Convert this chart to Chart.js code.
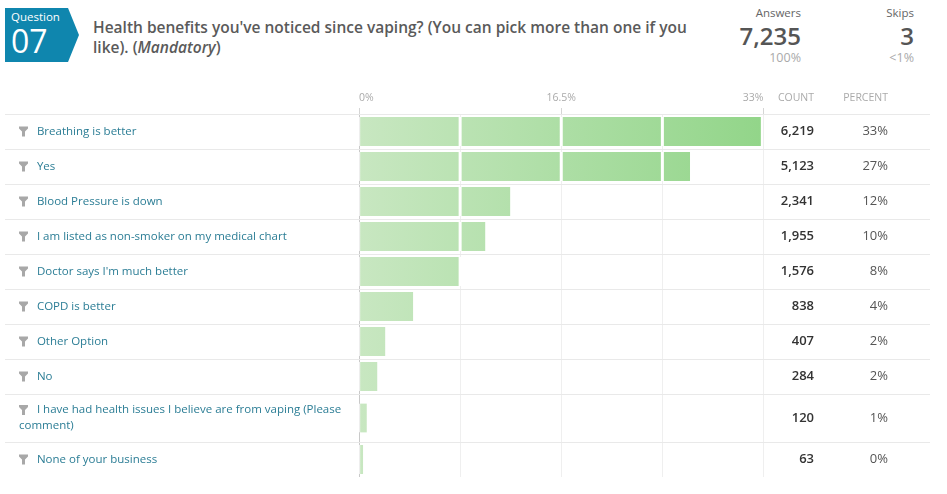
<!DOCTYPE html>
<html>
<head>
<meta charset="utf-8">
<title>Question 07</title>
<script src="https://cdn.jsdelivr.net/npm/chart.js@4/dist/chart.umd.min.js"></script>
<style>
    html, body { margin: 0; padding: 0; background: #fff; }
    body { width: 947px; height: 494px; position: relative; overflow: hidden; font-family: "Open Sans", sans-serif; }
    #myChart { position: absolute; left: 0; top: 0; }
    .badge {
        position: absolute; left: 5px; top: 8px; width: 74px; height: 54px; background: #0f86ae; color: #fff;
        clip-path: polygon(0 0, 63px 0, 74px 27px, 63px 54px, 0 54px);
    }
    .badge .q { position: absolute; left: 6px; top: 2px; font-size: 11.5px; line-height: 14px; }
    .badge .n { position: absolute; left: 6px; top: 14px; font-size: 32px; line-height: 38px; }
    .titulo { position: absolute; left: 93px; top: 17px; font-size: 15.5px; line-height: 20px; font-weight: 600; color: #5a5a5a; white-space: nowrap; }
    .titulo i { font-weight: 600; }
    .stat { position: absolute; top: 5px; text-align: right; white-space: nowrap; }
    .stat .lbl { font-size: 11.5px; line-height: 16px; color: #666; }
    .stat .num { font-size: 24px; line-height: 29px; color: #555; font-weight: 600; }
    .stat .pct { font-size: 12.5px; line-height: 16px; color: #aaa; }
</style>
</head>
<body>
<div class="badge"><div class="q">Question</div><div class="n">07</div></div>
<div class="titulo">Health benefits you've noticed since vaping? (You can pick more than one if you<br>like). (<i>Mandatory</i>)</div>
<div class="stat" style="right:146px"><div class="lbl">Answers</div><div class="num">7,235</div><div class="pct">100%</div></div>
<div class="stat" style="right:33px"><div class="lbl">Skips</div><div class="num">3</div><div class="pct">&lt;1%</div></div>
<canvas id="myChart" width="947" height="494"></canvas>
<script>
let categories = [
    'Breathing is better',
    'Yes',
    'Blood Pressure is down',
    'I am listed as non-smoker on my medical chart',
    "Doctor says I'm much better",
    'COPD is better',
    'Other Option',
    'No',
    ['I have had health issues I believe are from vaping (Please', 'comment)'],
    'None of your business'
];
let counts = [6219, 5123, 2341, 1955, 1576, 838, 407, 284, 120, 63];
let countLabels = ['6,219', '5,123', '2,341', '1,955', '1,576', '838', '407', '284', '120', '63'];
let percentLabels = ['33%', '27%', '12%', '10%', '8%', '4%', '2%', '2%', '1%', '0%'];
let tickLabels = ['0%', '', '16.5%', '', '33%'];
// count that sits at the 33% end of the axis
let countMax = 6260;

// one text line rows are 35px, every extra line adds 13px
function alturaFila(i) {
    return 35 + ([].concat(categories[i]).length - 1) * 13;
}

// category scale with rows of different height
class RowScale extends Chart.CategoryScale {
    getPixelForValue(value) {
        let y = this.top;
        for (let i = 0; i < value; i++) {
            y += alturaFila(i);
        }
        return y + alturaFila(value) / 2;
    }
}
RowScale.id = 'rows';
RowScale.defaults = Chart.CategoryScale.defaults;
Chart.register(RowScale);

function dibujarEmbudo(ctx, x, y) {
    ctx.fillStyle = '#a8a8a8';
    ctx.beginPath();
    ctx.moveTo(x, y - 5);
    ctx.lineTo(x + 9, y - 5);
    ctx.lineTo(x + 9, y - 3);
    ctx.lineTo(x + 6, y);
    ctx.lineTo(x + 6, y + 5);
    ctx.lineTo(x + 3, y + 5);
    ctx.lineTo(x + 3, y);
    ctx.lineTo(x, y - 3);
    ctx.closePath();
    ctx.fill();
}

// row separators, white cuts over the bars and the count / percent columns
let tablaPlugin = {
    id: 'tabla',
    beforeDatasetsDraw(chart) {
        let ctx = chart.ctx;
        let yScale = chart.scales.y;
        ctx.save();
        ctx.fillStyle = '#e9e9e9';
        let y = yScale.top;
        ctx.fillRect(5, Math.round(y), 925, 1);
        for (let i = 0; i < categories.length - 1; i++) {
            y += alturaFila(i);
            ctx.fillRect(5, Math.round(y), 925, 1);
        }
        ctx.restore();
    },
    afterDatasetsDraw(chart) {
        let ctx = chart.ctx;
        let xScale = chart.scales.x;
        ctx.save();
        ctx.fillStyle = '#fff';
        chart.getDatasetMeta(0).data.forEach(function(barra) {
            for (let t = 1; t < xScale.ticks.length - 1; t++) {
                let px = xScale.getPixelForTick(t);
                if (px < barra.x) {
                    ctx.fillRect(px - 1.5, barra.y - 14.5, 3, 29);
                }
            }
        });
        ctx.restore();
    },
    afterDraw(chart) {
        let ctx = chart.ctx;
        let yScale = chart.scales.y;
        ctx.save();
        ctx.textBaseline = 'middle';
        ctx.textAlign = 'right';
        ctx.font = '10.5px "Open Sans"';
        ctx.fillStyle = '#aaa';
        ctx.fillText('COUNT', 814, 98);
        ctx.fillText('PERCENT', 888, 98);
        categories.forEach(function(cat, i) {
            let y = yScale.getPixelForValue(i);
            let lineas = [].concat(cat).length;
            dibujarEmbudo(ctx, 19, y - (lineas - 1) * 8);
            ctx.font = '600 13px "Open Sans"';
            ctx.fillStyle = '#333';
            ctx.fillText(countLabels[i], 814, y);
            ctx.font = '13px "Open Sans"';
            ctx.fillStyle = '#555';
            ctx.fillText(percentLabels[i], 888, y);
        });
        ctx.restore();
    }
};

let data = {
    labels: categories,
    datasets: [{
        data: counts,
        barThickness: 29,
        borderWidth: { left: 1 },
        borderColor: '#fff',
        borderSkipped: false,
        backgroundColor: function(context) {
            let area = context.chart.chartArea;
            if (!area) {
                return '#b5e0ac';
            }
            let g = context.chart.ctx.createLinearGradient(area.left, 0, area.right, 0);
            g.addColorStop(0, '#c8e7c1');
            g.addColorStop(1, '#92d589');
            return g;
        }
    }]
};

let config = {
    type: 'bar',
    data: data,
    plugins: [tablaPlugin],
    options: {
        indexAxis: 'y',
        responsive: false,
        animation: false,
        layout: { padding: { left: 19, right: 183.5, top: 74, bottom: 17 } },
        plugins: { legend: { display: false }, tooltip: { enabled: false } },
        scales: {
            x: {
                type: 'linear',
                position: 'top',
                min: 0,
                max: countMax,
                afterBuildTicks: function(scale) {
                    scale.ticks = tickLabels.map((t, i) => ({ value: countMax * i / (tickLabels.length - 1) }));
                },
                afterFit: function(scale) {
                    scale.height = 40;
                },
                border: { display: false },
                grid: {
                    color: (c) => c.index === 0 ? '#c9c9c9' : '#efefef',
                    tickColor: (c) => tickLabels[c.index] === '' ? 'rgba(0,0,0,0)' : '#d5d5d5',
                    tickLength: 6
                },
                ticks: {
                    autoSkip: false,
                    maxRotation: 0,
                    align: 'inner',
                    padding: 4,
                    color: '#aaa',
                    font: { family: '"Open Sans"', size: 10.5 },
                    callback: (v, i) => tickLabels[i]
                }
            },
            y: {
                type: 'rows',
                afterFit: function(scale) {
                    scale.width = 340;
                },
                border: { display: false },
                grid: { display: false },
                ticks: {
                    crossAlign: 'far',
                    autoSkip: false,
                    padding: 0,
                    color: '#2b7d95',
                    font: { family: '"Open Sans"', size: 11.5, lineHeight: 16 / 11.5 },
                    callback: function(v, i) {
                        let lineas = [].concat(categories[i]);
                        // room for the funnel icon on the first line only
                        lineas[0] = '      ' + lineas[0];
                        return lineas;
                    }
                }
            }
        }
    }
};

let myChart = new Chart(document.getElementById('myChart'), config);
</script>
</body>
</html>
